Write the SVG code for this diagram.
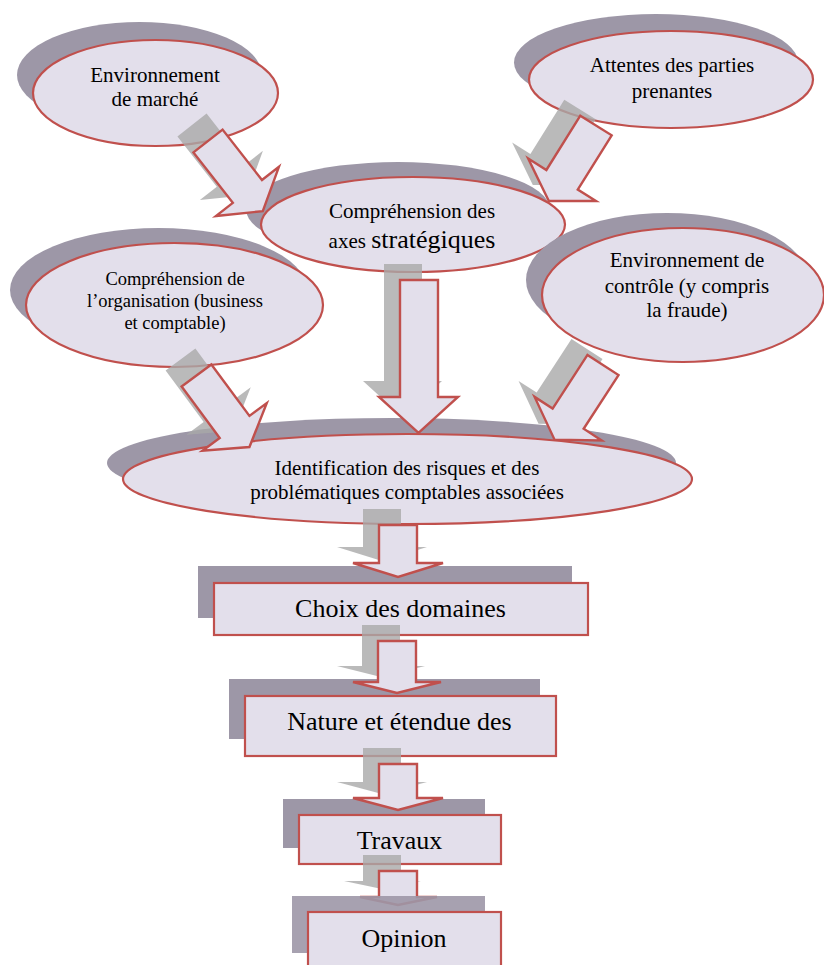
<svg xmlns="http://www.w3.org/2000/svg" xmlns:xlink="http://www.w3.org/1999/xlink" width="824" height="965" viewBox="0 0 824 965">
<style>
.sh{fill:#9d97a7}
.nd{fill:#e3dfeb;stroke:#c0504d;stroke-width:2.2}
.ash{fill:#a9a9a9;opacity:0.8}
.ar{fill:#e3dfeb;stroke:#c0504d;stroke-width:2.4;stroke-linejoin:miter}
text{font-family:"Liberation Serif","Times New Roman",serif;fill:#000;text-anchor:middle}
.t21{font-size:21px}
.t18{font-size:18.5px}
.t26{font-size:26px}
</style>
<defs>
<path id="darr" d="M-18.5,0 H18.5 V64 H40 L0,89 L-40,64 H-18.5 Z"/>
</defs>
<rect width="824" height="965" fill="#fff"/>

<g id="n-env-marche">
<ellipse class="sh" cx="139.5" cy="75" rx="122.5" ry="53"/>
<ellipse class="nd" cx="155.5" cy="93" rx="122.5" ry="53"/>
<text class="t21" x="155" y="82">Environnement</text>
<text class="t21" x="155" y="106">de marché</text>
</g>

<g id="n-attentes">
<ellipse class="sh" cx="656" cy="62.5" rx="142" ry="48.5"/>
<ellipse class="nd" cx="671" cy="79.5" rx="142" ry="48.5"/>
<text class="t21" x="672" y="72">Attentes des parties</text>
<text class="t21" x="672" y="98">prenantes</text>
</g>

<g id="n-axes">
<ellipse class="sh" cx="398" cy="209.5" rx="152" ry="47.5"/>
<ellipse class="nd" cx="413" cy="224.5" rx="152" ry="47.5"/>
<text class="t21" x="412" y="218">Compréhension des</text>
<text x="412" y="248"><tspan class="t21">axes </tspan><tspan class="t26">stratégiques</tspan></text>
</g>

<g id="n-organisation">
<ellipse class="sh" cx="158.5" cy="290" rx="148.5" ry="62"/>
<ellipse class="nd" cx="174.5" cy="305" rx="148.5" ry="62"/>
<text class="t18" x="175" y="285">Compréhension de</text>
<text class="t18" x="175" y="307">l’organisation (business</text>
<text class="t18" x="175" y="329">et comptable)</text>
</g>

<g id="n-controle">
<ellipse class="sh" cx="667" cy="280" rx="141" ry="67"/>
<ellipse class="nd" cx="683" cy="295" rx="141" ry="67"/>
<text class="t21" x="687" y="267">Environnement de</text>
<text class="t21" x="687" y="293">contrôle (y compris</text>
<text class="t21" x="687" y="317">la fraude)</text>
</g>

<g id="n-identification">
<ellipse class="sh" cx="391.5" cy="463" rx="284.5" ry="45"/>
<ellipse class="nd" cx="407.5" cy="479" rx="284.5" ry="45"/>
<text class="t21" x="407" y="475">Identification des risques et des</text>
<text class="t21" x="407" y="499">problématiques comptables associées</text>
</g>

<g id="n-choix">
<rect class="sh" x="198" y="566" width="374" height="52"/>
<rect class="nd" x="214" y="583" width="374" height="52"/>
<text class="t26" x="400.5" y="617">Choix des domaines</text>
</g>

<g id="n-nature">
<rect class="sh" x="229" y="679" width="311" height="60"/>
<rect class="nd" x="245" y="696" width="311" height="60"/>
<text class="t26" x="399.5" y="730">Nature et étendue des</text>
</g>

<g id="n-travaux">
<rect class="sh" x="283" y="799" width="202" height="49"/>
<rect class="nd" x="299" y="815" width="202" height="49"/>
<text class="t26" x="399.5" y="849">Travaux</text>
</g>

<g id="connectors">
<!-- shadows -->
<use class="ash" href="#darr" transform="translate(192,125) rotate(-38)"/>
<use class="ash" href="#darr" transform="translate(580,109.5) rotate(32)"/>
<use class="ash" href="#darr" transform="translate(180.5,359.5) rotate(-36.5)"/>
<use class="ash" href="#darr" transform="translate(587,349) rotate(33)"/>
<path class="ash" d="M384,264 H422 V381 H442 L402.5,417 L363,381 H384 Z"/>
<path class="ash" d="M363,509 H401 V547 H427 L382,561 L337,547 H363 Z"/>
<path class="ash" d="M362,625 H400 V666 H425 L381,677 L337,666 H362 Z"/>
<path class="ash" d="M363,748 H401 V782 H427 L382,794 L337,782 H363 Z"/>
<path class="ash" d="M363,855 H401 V881 H421 L382,889 L344,881 H363 Z"/>
<!-- arrows -->
<use class="ar" href="#darr" transform="translate(208,141) rotate(-38)"/>
<use class="ar" href="#darr" transform="translate(596,125.5) rotate(32)"/>
<use class="ar" href="#darr" transform="translate(196.5,375.5) rotate(-36.5)"/>
<use class="ar" href="#darr" transform="translate(603,365) rotate(33)"/>
<path class="ar" d="M400,280 H438 V397 H458 L418.5,433 L379,397 H400 Z"/>
<path class="ar" d="M379,525 H417 V563 H443 L398,577 L353,563 H379 Z"/>
<path class="ar" d="M378,641 H416 V682 H441 L397,693 L353,682 H378 Z"/>
<path class="ar" d="M379,764 H417 V798 H443 L398,810 L353,798 H379 Z"/>
<path class="ar" d="M379,871 H417 V897 H437 L398,905 L360,897 H379 Z"/>
</g>

<g id="n-opinion">
<rect class="sh" x="292" y="896" width="193" height="57" opacity="0.9"/>
<rect class="nd" x="308" y="912" width="193" height="60"/>
<text class="t26" x="404" y="947">Opinion</text>
</g>
</svg>
